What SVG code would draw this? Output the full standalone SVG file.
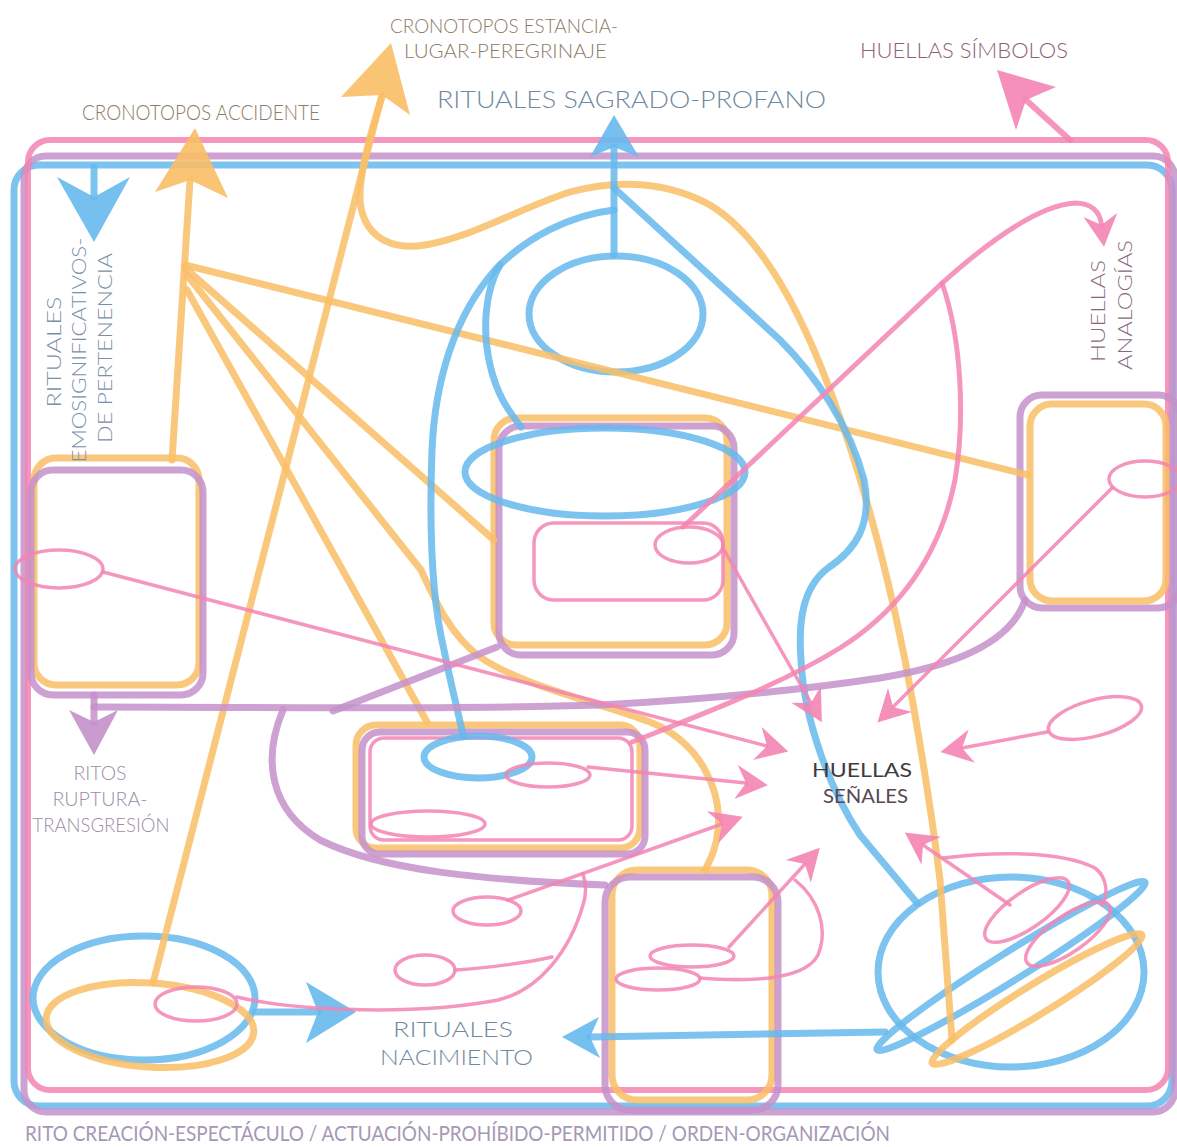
<svg xmlns="http://www.w3.org/2000/svg" width="1177" height="1147" viewBox="0 0 1177 1147">
<style>
.o{fill:none;stroke:#F9BE66;stroke-opacity:.85;stroke-width:7;stroke-linecap:round;stroke-linejoin:round}
.b{fill:none;stroke:#66B9ED;stroke-opacity:.85;stroke-width:7;stroke-linecap:round;stroke-linejoin:round}
.u{fill:none;stroke:#C490CA;stroke-opacity:.85;stroke-width:7;stroke-linecap:round;stroke-linejoin:round}
.p{fill:none;stroke:#F384B3;stroke-opacity:.85;stroke-width:6;stroke-linecap:round;stroke-linejoin:round}
.pt{fill:none;stroke:#F384B3;stroke-opacity:.85;stroke-width:3.5;stroke-linecap:round;stroke-linejoin:round}
.pm{fill:none;stroke:#F384B3;stroke-opacity:.85;stroke-width:5;stroke-linecap:round;stroke-linejoin:round}
.fo{fill:#F9BE66;fill-opacity:.9}
.fb{fill:#66B9ED;fill-opacity:.9}
.fp{fill:#F384B3;fill-opacity:.9}
.fu{fill:#C490CA;fill-opacity:.9}
text{font-family:Lato,"Open Sans","Liberation Sans",sans-serif;font-size:22px;font-weight:300}
.sm{font-size:20px}
.tc{fill:#8C7C66}
.tr{fill:#6F8AA0}
.th{fill:#8E6276}
.tv{fill:#7A90A6}
.ta{fill:#8A6A7A}
.tt{fill:#9A8CA6}
.ts{fill:#3D3D3D;font-weight:400}
.tb{fill:#A598B5;font-weight:400;font-size:21px}
</style>
<defs>
<marker id="ap" viewBox="-36 -20 40 40" refX="-22" refY="0" markerWidth="40" markerHeight="40" markerUnits="userSpaceOnUse" orient="auto" overflow="visible">
<path d="M0,0 L-32,-17 L-22,0 L-32,17 Z" class="fp"/>
</marker>
</defs>

<g id="frames">
<rect x="14" y="165" width="1158" height="941" rx="25" class="b"/>
<rect x="24" y="156" width="1151" height="956" rx="22" class="u"/>
<rect x="28" y="140" width="1140" height="950" rx="22" class="p"/>
</g>

<g id="node-left-box">
<rect x="34" y="458" width="165" height="227" rx="22" class="o"/>
<rect x="31" y="470" width="172" height="225" rx="22" class="u"/>
<ellipse cx="59" cy="569" rx="44" ry="19" class="pt"/>
</g>

<g id="node-center-box">
<rect x="494" y="418" width="233" height="227" rx="22" class="o"/>
<rect x="499" y="426" width="235" height="229" rx="22" class="u"/>
<rect x="534" y="523" width="189" height="77" rx="20" class="pt"/>
<ellipse cx="605" cy="472" rx="140" ry="44" class="b"/>
<ellipse cx="689" cy="545" rx="34" ry="18" class="pt"/>
</g>

<g id="node-right-box">
<rect x="1020" y="395" width="160" height="213" rx="22" class="u"/>
<rect x="1030" y="404" width="136" height="197" rx="22" class="o"/>
<ellipse cx="1145" cy="479" rx="36" ry="18" class="pt"/>
</g>

<g id="node-middle-box">
<rect x="356" y="725" width="284" height="123" rx="20" class="o"/>
<rect x="362" y="732" width="283" height="122" rx="18" class="u"/>
<rect x="370" y="738" width="262" height="102" rx="14" class="pt"/>
<ellipse cx="478" cy="757" rx="54" ry="21" class="b"/>
<ellipse cx="548" cy="775" rx="42" ry="12" class="pt"/>
<ellipse cx="428" cy="824" rx="57" ry="13" class="pt"/>
</g>

<g id="node-bottom-box">
<rect x="612" y="870" width="160" height="230" rx="25" class="o"/>
<rect x="605" y="877" width="173" height="233" rx="25" class="u"/>
<ellipse cx="692" cy="956" rx="42" ry="11" class="pt"/>
<ellipse cx="658" cy="979" rx="42" ry="11" class="pt"/>
</g>

<g id="node-top-ellipse">
<ellipse cx="616" cy="314" rx="87" ry="58" class="b"/>
</g>

<g id="node-bottom-left">
<ellipse cx="144" cy="998" rx="111" ry="62" class="b"/>
<ellipse cx="150" cy="1025" rx="104" ry="42" class="o" transform="rotate(4 150 1025)"/>
<ellipse cx="196" cy="1004" rx="41" ry="17" class="pt"/>
</g>

<g id="node-bottom-right">
<ellipse cx="1011" cy="972" rx="133" ry="95" class="b"/>
<ellipse cx="1011" cy="966" rx="158" ry="14" class="b" transform="rotate(-32 1011 966)"/>
<ellipse cx="1037" cy="999" rx="123" ry="15" class="o" transform="rotate(-31.5 1037 999)"/>
<ellipse cx="1027" cy="910" rx="50" ry="18" class="pt" transform="rotate(-35 1027 910)"/>
<ellipse cx="1068" cy="934" rx="50" ry="18" class="pt" transform="rotate(-35 1068 934)"/>
</g>

<g id="node-small-ellipses">
<ellipse cx="487" cy="911" rx="34" ry="14" class="pt"/>
<ellipse cx="425" cy="970" rx="30" ry="15" class="pt"/>
<ellipse cx="1095" cy="718" rx="48" ry="18" class="pt" transform="rotate(-15 1095 718)"/>
</g>

<g id="connectors">
<path d="M153,983 L382,95" class="o"/>
<path d="M382,97 C368,140 355,190 362,212 C370,240 395,250 425,245 C470,238 520,208 570,192 C620,178 670,183 710,205 C760,235 800,310 830,390 C860,470 885,560 905,660 C920,740 930,800 940,880 L952,1040" class="o"/>
<path d="M172,460 L190,180" class="o"/>
<path d="M185,265 L1028,475" class="o"/>
<path d="M185,268 L494,540" class="o"/>
<path d="M187,275 L421,570 C435,600 450,635 480,657 C520,685 600,703 650,722 C700,742 722,790 718,830 C716,850 710,860 705,870" class="o"/>
<path d="M187,290 L427,722" class="o"/>
<polygon points="195,128 228,198 190,180 155,192" class="fo"/>
<polygon points="391,43 410,115 382,95 341,97" class="fo"/>
<path d="M94,167 L94,197" class="b"/>
<polygon points="94,242 130,177 94,197 57,177" class="fb"/>
<path d="M614,147 L614,255" class="b"/>
<polygon points="614,115 639,157 614,147 590,157" class="fb"/>
<path d="M614,188 L780,340 C815,375 850,425 864,480 C873,525 855,550 828,568 C803,587 798,620 801,660 C804,720 830,790 860,835 L917,903" class="b"/>
<path d="M614,210 C570,215 525,238 495,270 C455,315 435,380 432,450 C429,530 432,600 444,650 C452,690 458,710 463,736" class="b"/>
<path d="M500,265 C485,290 482,330 490,365 C497,395 508,410 521,427" class="b"/>
<path d="M255,1012 L318,1012" class="b"/>
<polygon points="356,1012 306,1043 318,1012 306,982" class="fb"/>
<path d="M885,1032 L590,1037" class="b"/>
<polygon points="562,1037 599,1017 590,1037 600,1058" class="fb"/>
<path d="M94,695 L94,722" class="u"/>
<polygon points="94,755 69,710 94,722 118,710" class="fu"/>
<path d="M1025,600 C1012,640 960,665 880,678 C800,690 700,700 600,705 C450,710 250,707 94,707" class="u"/>
<path d="M497,647 L333,711" class="u"/>
<path d="M283,710 C262,760 270,810 320,840 C380,870 480,880 605,885" class="u"/>
<path d="M1070,140 L1026,100" class="p"/>
<polygon points="997,70 1056,87 1026,100 1016,130" class="fp"/>
<path d="M683,527 L940,285 C990,240 1040,205 1075,203 C1092,203 1100,212 1101.5,225" class="pm" marker-end="url(#ap)"/>
<path d="M942,283 C962,340 965,420 955,480 C940,555 900,610 840,648 C780,685 700,715 632,742" class="pm"/>
<path d="M103,572 L767,746" class="pt" marker-end="url(#ap)"/>
<path d="M588,767 L746,783" class="pt" marker-end="url(#ap)"/>
<path d="M508,900 L722,824" class="pt" marker-end="url(#ap)"/>
<path d="M723,548 L811,703" class="pt" marker-end="url(#ap)"/>
<path d="M1112,488 L893,707" class="pt" marker-end="url(#ap)"/>
<path d="M1047,732 L962,748" class="pt" marker-end="url(#ap)"/>
<path d="M1010,905 L923,845" class="pt" marker-end="url(#ap)"/>
<path d="M729,947 L805,864" class="pt" marker-end="url(#ap)"/>
<path d="M237,997 C300,1012 420,1015 498,1000 C540,990 570,950 583,905 C588,890 585,880 583,874" class="pt"/>
<path d="M455,970 C490,968 530,962 552,957" class="pt"/>
<path d="M700,978 C750,982 805,980 818,955 C828,930 820,900 795,880" class="pt"/>
<path d="M943,858 C990,852 1060,850 1095,868 C1108,878 1108,895 1102,905" class="pt"/>
</g>

<g id="labels">
<text x="390" y="33" textLength="228" lengthAdjust="spacingAndGlyphs" class="tc sm">CRONOTOPOS ESTANCIA-</text>
<text x="404" y="58" textLength="203" lengthAdjust="spacingAndGlyphs" class="tc sm">LUGAR-PEREGRINAJE</text>
<text x="82" y="120" textLength="238" lengthAdjust="spacingAndGlyphs" class="tc">CRONOTOPOS ACCIDENTE</text>
<text x="437" y="108" textLength="389" lengthAdjust="spacingAndGlyphs" class="tr" style="font-size:24px">RITUALES SAGRADO-PROFANO</text>
<text x="860" y="58" textLength="208" lengthAdjust="spacingAndGlyphs" class="th">HUELLAS SÍMBOLOS</text>
<text transform="translate(61 352) rotate(-90)" text-anchor="middle" textLength="111" lengthAdjust="spacingAndGlyphs" class="tv sm">RITUALES</text>
<text transform="translate(86 350) rotate(-90)" text-anchor="middle" textLength="225" lengthAdjust="spacingAndGlyphs" class="tv sm">EMOSIGNIFICATIVOS-</text>
<text transform="translate(112 348) rotate(-90)" text-anchor="middle" textLength="190" lengthAdjust="spacingAndGlyphs" class="tv sm">DE PERTENENCIA</text>
<text transform="translate(1105 311) rotate(-90)" text-anchor="middle" textLength="102" lengthAdjust="spacingAndGlyphs" class="ta sm">HUELLAS</text>
<text transform="translate(1132 305) rotate(-90)" text-anchor="middle" textLength="130" lengthAdjust="spacingAndGlyphs" class="ta sm">ANALOGÍAS</text>
<text x="100" y="780" text-anchor="middle" textLength="53" lengthAdjust="spacingAndGlyphs" class="tt sm">RITOS</text>
<text x="100" y="806" text-anchor="middle" textLength="95" lengthAdjust="spacingAndGlyphs" class="tt sm">RUPTURA-</text>
<text x="101" y="832" text-anchor="middle" textLength="137" lengthAdjust="spacingAndGlyphs" class="tt sm">TRANSGRESIÓN</text>
<text x="812" y="777" textLength="100" lengthAdjust="spacingAndGlyphs" class="ts sm">HUELLAS</text>
<text x="823" y="803" textLength="85" lengthAdjust="spacingAndGlyphs" class="ts sm" style="fill:#5A4654">SEÑALES</text>
<text x="393" y="1037" textLength="120" lengthAdjust="spacingAndGlyphs" class="tr">RITUALES</text>
<text x="380" y="1065" textLength="153" lengthAdjust="spacingAndGlyphs" class="tr">NACIMIENTO</text>
<text x="25" y="1141" textLength="865" lengthAdjust="spacingAndGlyphs" class="tb">RITO CREACIÓN-ESPECTÁCULO / ACTUACIÓN-PROHÍBIDO-PERMITIDO / ORDEN-ORGANIZACIÓN</text>
</g>
</svg>
